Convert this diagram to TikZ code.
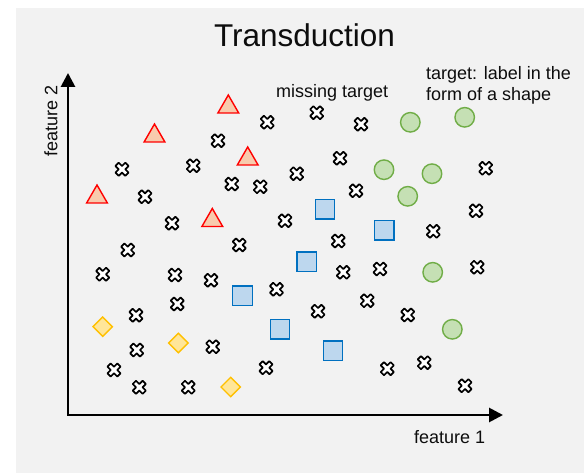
\documentclass[tikz,border=0pt]{standalone}
\usepackage{fontspec}
\setmainfont{Liberation Sans}
\usetikzlibrary{arrows.meta, shapes.geometric}
\definecolor{panebg}{HTML}{F2F2F2}
\definecolor{triline}{HTML}{FF0000}
\definecolor{trifill}{HTML}{F8CBAD}
\definecolor{circline}{HTML}{70AD47}
\definecolor{circfill}{HTML}{C5E0B4}
\definecolor{sqline}{HTML}{0070C0}
\definecolor{sqfill}{HTML}{BDD7EE}
\definecolor{dialine}{HTML}{FFC000}
\definecolor{diafill}{HTML}{FFE699}
\definecolor{inkgray}{HTML}{0D0D0D}
\tikzset{
  tribox/.style={regular polygon, regular polygon sides=3, draw=triline, fill=trifill,
    line width=1.4pt, minimum size=24pt, inner sep=0pt},
  circbox/.style={circle, draw=circline, fill=circfill, line width=1.4pt,
    minimum size=19.5pt, inner sep=0pt},
  sqbox/.style={rectangle, draw=sqline, fill=sqfill, line width=1.4pt,
    minimum size=19.5pt, inner sep=0pt},
  diabox/.style={diamond, draw=dialine, fill=diafill, line width=1.4pt,
    minimum width=20pt, minimum height=20pt, inner sep=0pt},
  xmark/.pic={
    \draw[black, fill=white, line width=1.7pt, line join=round, rotate=45]
      (-2.3,7) -- (2.3,7) -- (2.3,2.3) -- (7,2.3) -- (7,-2.3) -- (2.3,-2.3)
      -- (2.3,-7) -- (-2.3,-7) -- (-2.3,-2.3) -- (-7,-2.3) -- (-7,2.3)
      -- (-2.3,2.3) -- cycle;
  },
  axisline/.style={draw=black, line width=2.8pt, line join=miter,
    {Triangle[length=14pt,width=14pt]}-{Triangle[length=14pt,width=14pt]}},
  lbl/.style={font=\fontsize{18}{21}\selectfont, text=inkgray, inner sep=0pt}
}

\begin{document}
\begin{tikzpicture}[x=1pt, y=-1pt]
\useasboundingbox (0,0) rectangle (584,473);
\fill[white] (0,0) rectangle (584,473);
\fill[panebg] (16,8) rectangle (584,473);
% title and labels
\node[anchor=base, font=\fontsize{31.5}{36}\selectfont, text=inkgray, inner sep=0pt] (title) at (304.5,47) {Transduction};
\node[lbl, anchor=base west] (missing) at (276,98) {missing target};
\node[lbl, anchor=north west, align=left] (target) at (426,66) {target: label in the\\form of a shape};
\node[lbl, anchor=base west] (feat1) at (414,443) {feature 1};
\node[lbl, rotate=90] (feat2) at (51,121) {feature 2};
% axes
\coordinate (origin) at (68,415);
\coordinate (ytip) at (68,73);
\coordinate (xtip) at (503,415);
\draw[axisline] (ytip) -- (origin) -- (xtip);
% unlabelled points
\foreach \px/\py [count=\i] in {267.3/122.3, 218/140.7, 122/169.3, 193.3/165.7, 231.7/184,
    260.3/186.7, 145/196.7, 172/223.3, 316.7/112.7, 361/124.3, 340/158.3, 296.7/173.7,
    356/190.7, 485.7/168.3, 476/210.7, 433.3/231.3, 285/220.7, 127.7/250, 239.3/245,
    102.7/274.3, 175/275, 211/280.3, 177.3/304, 136/315.3, 136.7/350, 212.7/346.7,
    114/370, 139.3/387.3, 188.3/387.3, 266/367.7, 338.3/241, 343.3/272.3, 380/269,
    276.5/289.3, 477.3/267.3, 367.3/300.7, 318/311.3, 407.7/315, 387.3/368.7,
    424.3/362.7, 465/385.7}
  \pic (xm\i) at (\px,\py) {xmark};
% labelled points
\foreach \px/\py [count=\i] in {228.3/107, 154.5/136, 247.7/159, 97/197, 212.3/220.5}
  \node[tribox] (tri\i) at (\px,\py) {};
\foreach \px/\py [count=\i] in {410.3/122.3, 464.7/117.3, 384/169.7, 432/173.7,
    407.7/196.3, 432.7/272.3, 452.3/329.3}
  \node[circbox] (circ\i) at (\px,\py) {};
\foreach \px/\py [count=\i] in {325/209.3, 384.2/230.3, 306.7/261.8, 242.5/295.8,
    280/329.3, 333/350.8}
  \node[sqbox] (sq\i) at (\px,\py) {};
\foreach \px/\py [count=\i] in {102.7/326.7, 178.3/343, 230.7/387}
  \node[diabox] (dia\i) at (\px,\py) {};
\end{tikzpicture}
\end{document}
